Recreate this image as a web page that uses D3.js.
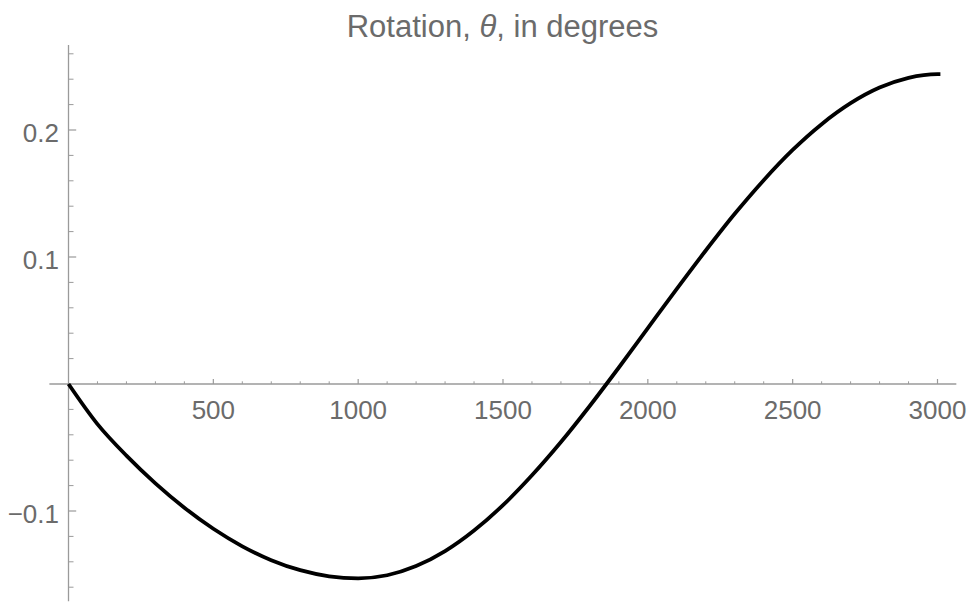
<!DOCTYPE html>
<html>
<head>
<meta charset="utf-8">
<script src="https://cdn.jsdelivr.net/npm/d3@7"></script>
<style>
body { margin:0; background:#fff; }
text { font-family: "Liberation Sans", Arial, sans-serif; fill:#6b6b6b; }
</style>
</head>
<body>
<div id="chart"></div>
<script>

var width = 969, height = 602;

// curve (step along the x axis, rotation in degrees)
var steps = [0,100,200,300,400,500,600,700,800,900,1000,1100,1200,1300,1400,1500,
	1600,1700,1800,1900,2000,2100,2200,2300,2400,2500,2600,2700,2800,2900,3000,3010];
var rotation = [0,-0.0316,-0.0564,-0.0782,-0.0974,-0.114,-0.1278,-0.1387,-0.1466,-0.1514,-0.153,
	-0.1506,-0.1434,-0.1316,-0.1154,-0.0954,-0.0719,-0.0457,-0.0171,0.013,0.044,0.0749,
	0.1051,0.134,0.1605,0.1843,0.2046,0.2211,0.2334,0.2411,0.244,0.244];

var xMajor = [500,1000,1500,2000,2500,3000];
var yMajor = [-0.1,0.1,0.2];
var yLabels = ["\u22120.1","0.1","0.2"];
var title = "Rotation, ";

var xr = [-66,3065], yr = [-0.171,0.267];

var X = d3.scaleLinear().domain([0,3000]).range([68.5,937.5]),
	Y = d3.scaleLinear().domain([0,0.1]).range([384,257]);

var svg = d3.select("#chart").append("svg")
	.attr("width",width).attr("height",height);

var axisColor = "#9a9a9a";

// minor ticks
var xMinor = d3.range(100,3001,100).filter(function(d){return d%500!=0});
var yMinor = d3.range(-16,27,2).map(function(d){return d/100})
	.filter(function(d){return Math.abs(d)>1e-9 && yMajor.indexOf(d)<0 && Y(d)>45});

svg.append("line")
	.attr("x1",X(xr[0])).attr("x2",X(xr[1]))
	.attr("y1",Y(0)).attr("y2",Y(0))
	.style("stroke",axisColor).style("stroke-width",1.3);

svg.append("line")
	.attr("x1",X(0)).attr("x2",X(0))
	.attr("y1",Y(yr[0])).attr("y2",Y(yr[1]))
	.style("stroke",axisColor).style("stroke-width",1.3);

svg.selectAll(".xminor").data(xMinor).enter().append("line")
	.attr("class","xminor")
	.attr("x1",function(d){return X(d)}).attr("x2",function(d){return X(d)})
	.attr("y1",Y(0)).attr("y2",Y(0)-2.7)
	.style("stroke",axisColor).style("stroke-width",1);

svg.selectAll(".xmajor").data(xMajor).enter().append("line")
	.attr("class","xmajor")
	.attr("x1",function(d){return X(d)}).attr("x2",function(d){return X(d)})
	.attr("y1",Y(0)).attr("y2",Y(0)-5)
	.style("stroke",axisColor).style("stroke-width",1.2);

svg.selectAll(".yminor").data(yMinor).enter().append("line")
	.attr("class","yminor")
	.attr("x1",X(0)).attr("x2",X(0)+5)
	.attr("y1",function(d){return Y(d)}).attr("y2",function(d){return Y(d)})
	.style("stroke",axisColor).style("stroke-width",1);

svg.selectAll(".ymajor").data(yMajor).enter().append("line")
	.attr("class","ymajor")
	.attr("x1",X(0)).attr("x2",X(0)+7.7)
	.attr("y1",function(d){return Y(d)}).attr("y2",function(d){return Y(d)})
	.style("stroke",axisColor).style("stroke-width",1.2);

svg.selectAll(".xlab").data(xMajor).enter().append("text")
	.attr("class","xlab")
	.attr("x",function(d){return X(d)})
	.attr("y",Y(0)+35)
	.attr("text-anchor","middle")
	.style("font-size","26px")
	.text(function(d){return d});

svg.selectAll(".ylab").data(yMajor).enter().append("text")
	.attr("class","ylab")
	.attr("x",59)
	.attr("y",function(d){return Y(d)+11.7})
	.attr("text-anchor","end")
	.style("font-size","26px")
	.text(function(d,i){return yLabels[i]});

var t = svg.append("text")
	.attr("x",502.5).attr("y",36.5)
	.attr("text-anchor","middle")
	.style("font-size","31px");
t.append("tspan").text(title);
t.append("tspan").style("font-style","italic").text("\u03b8");
t.append("tspan").text(", in degrees");

var pts = steps.map(function(d,i){return {x:d,y:rotation[i]}});

var line = d3.line()
	.x(function(d){return X(d.x)})
	.y(function(d){return Y(d.y)})
	.curve(d3.curveMonotoneX);

svg.append("path").datum(pts)
	.attr("d",line)
	.style("fill","none")
	.style("stroke","#000")
	.style("stroke-width",3.8);

</script>
</body>
</html>
